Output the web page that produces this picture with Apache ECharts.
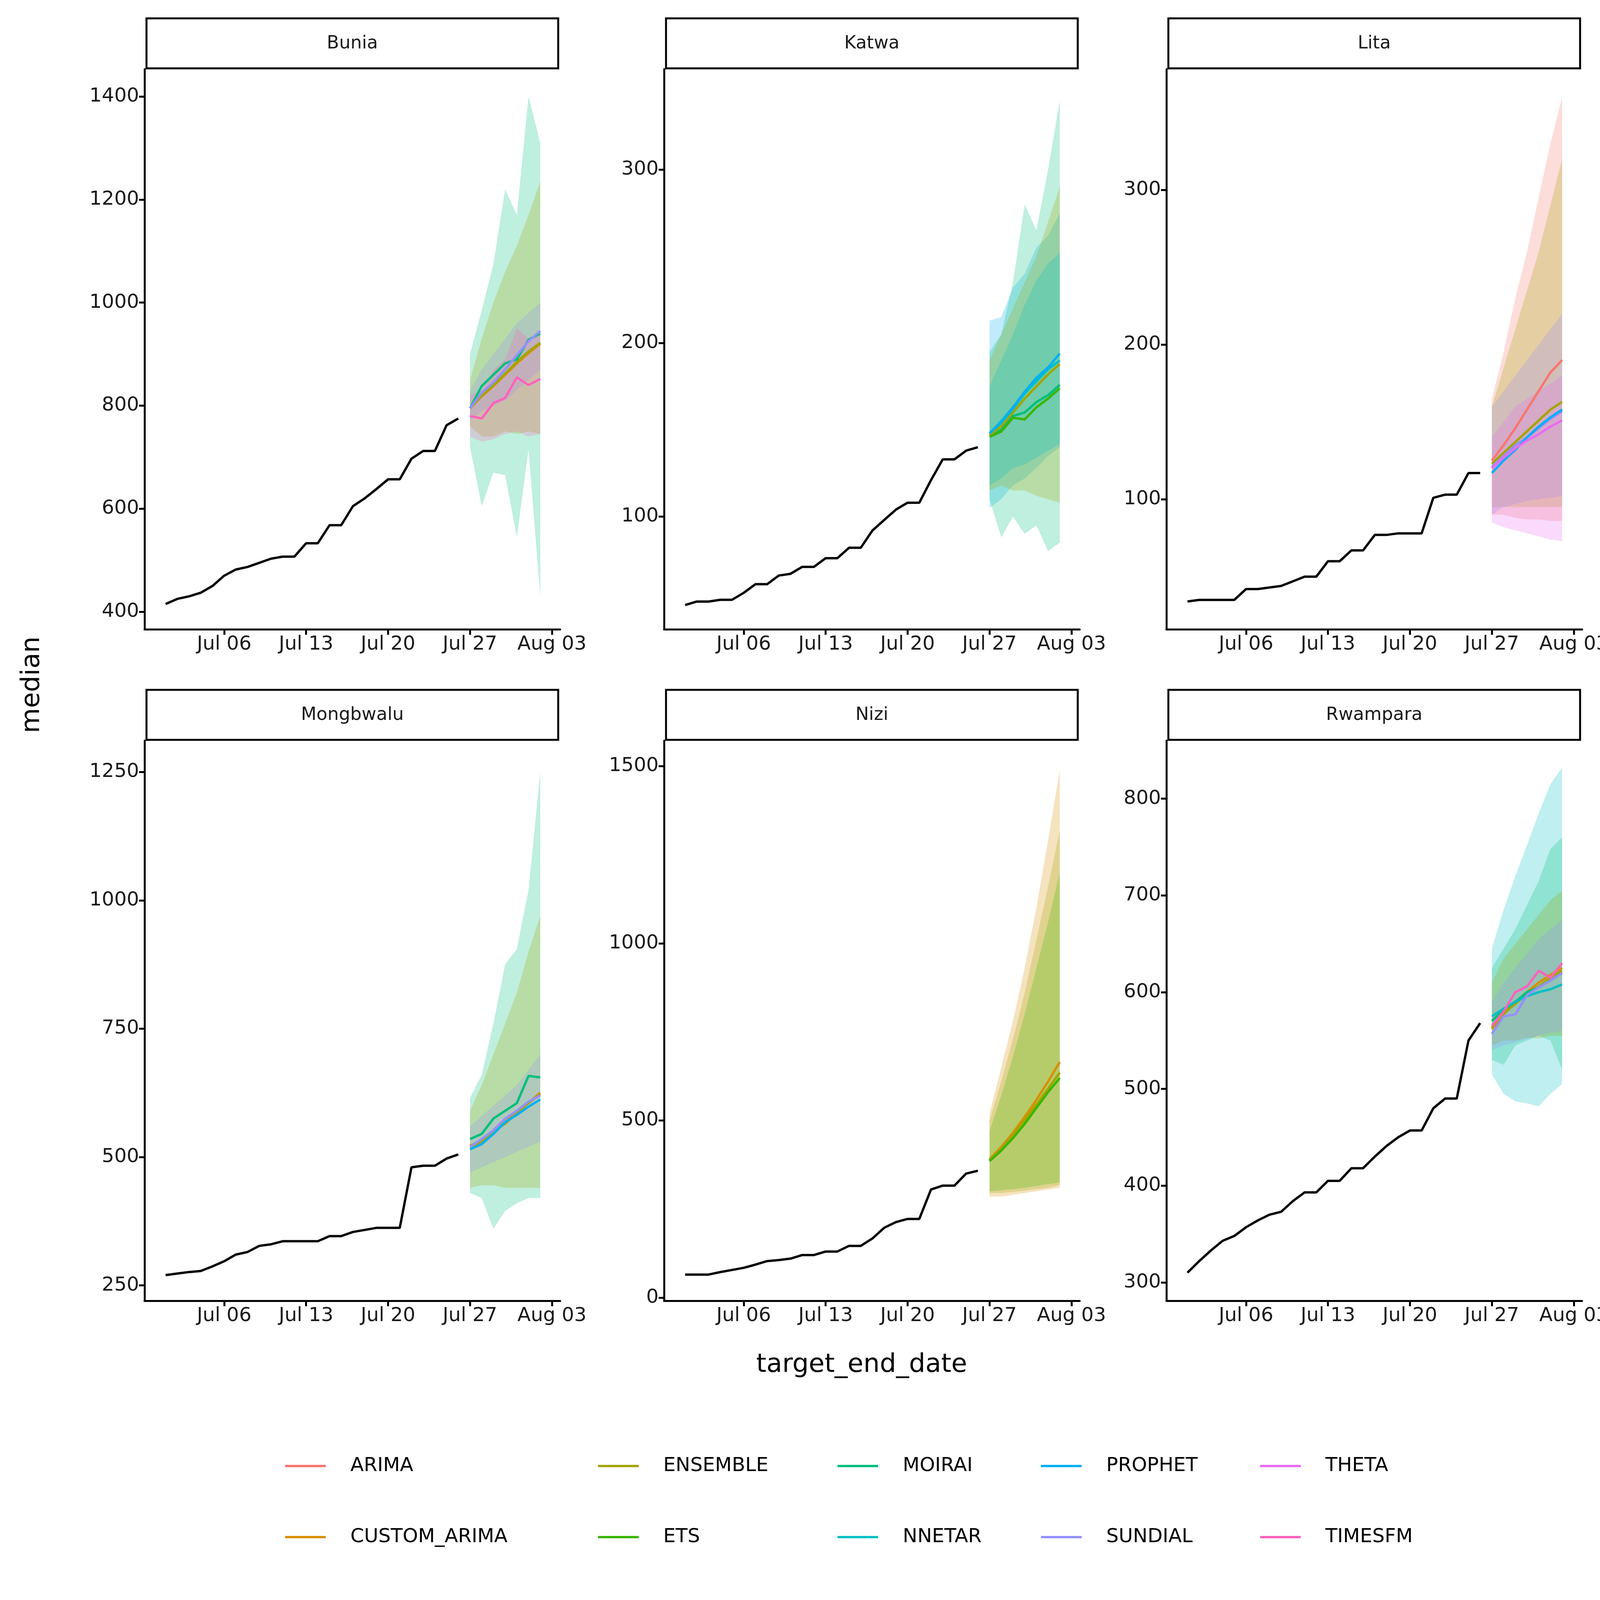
<!DOCTYPE html>
<html>
<head>
<meta charset="utf-8">
<script src="https://cdn.jsdelivr.net/npm/echarts@6/dist/echarts.min.js"></script>
<style>html,body{margin:0;background:#fff}#c{width:4200px;height:4200px}</style>
</head>
<body>
<div id="c"></div>
<script>
// day offsets relative to Jul 06
const obsDays = []
for (let d = -5; d <= 20; d++) obsDays.push(d)
const fcDays = [21, 22, 23, 24, 25, 26, 27]
const tickDays = [0, 7, 14, 21, 28]
const tickLabels = ['Jul 06', 'Jul 13', 'Jul 20', 'Jul 27', 'Aug 03']

const models = ['ARIMA', 'CUSTOM_ARIMA', 'ENSEMBLE', 'ETS', 'MOIRAI', 'NNETAR', 'PROPHET', 'SUNDIAL', 'THETA', 'TIMESFM']
const colors = {
  ARIMA: '#F8766D', CUSTOM_ARIMA: '#D89000', ENSEMBLE: '#A3A500', ETS: '#39B600', MOIRAI: '#00BF7D',
  NNETAR: '#00BFC4', PROPHET: '#00B0F6', SUNDIAL: '#9590FF', THETA: '#E76BF3', TIMESFM: '#FF62BC'
}

const buniaObs = [415, 425, 430, 437, 450, 470, 482, 487, 495, 503, 507, 507, 533, 533, 568, 568, 605, 620, 638, 657, 657, 697, 712, 712, 762, 775]
const buniaLines = {
  CUSTOM_ARIMA: [795, 818, 838, 860, 882, 902, 920],
  ENSEMBLE: [795, 820, 840, 862, 885, 905, 922],
  MOIRAI: [795, 838, 860, 882, 890, 928, 940],
  SUNDIAL: [795, 825, 845, 870, 898, 925, 945],
  TIMESFM: [780, 775, 805, 815, 855, 840, 852]
}
const buniaBands = {
  MOIRAI: [[720, 605, 670, 665, 545, 715, 430], [900, 985, 1075, 1220, 1170, 1400, 1310]],
  ENSEMBLE: [[760, 740, 740, 750, 745, 750, 745], [850, 930, 1000, 1060, 1110, 1170, 1235]],
  SUNDIAL: [[770, 790, 800, 810, 830, 850, 870], [830, 870, 900, 930, 960, 980, 1000]],
  TIMESFM: [[740, 730, 735, 745, 750, 740, 745], [820, 830, 870, 890, 950, 930, 945]]
}

const katwaObs = [49, 51, 51, 52, 52, 56, 61, 61, 66, 67, 71, 71, 76, 76, 82, 82, 92, 98, 104, 108, 108, 121, 133, 133, 138, 140]
const katwaLines = {
  MOIRAI: [147, 150, 158, 160, 166, 170, 176],
  ENSEMBLE: [147, 152, 160, 168, 175, 182, 188],
  NNETAR: [148, 154, 162, 171, 178, 185, 190],
  ETS: [146, 149, 157, 156, 163, 168, 174],
  PROPHET: [148, 155, 163, 172, 180, 186, 194]
}
const katwaBands = {
  PROPHET: [[105, 110, 118, 122, 128, 135, 140], [213, 215, 232, 240, 255, 262, 275]],
  MOIRAI: [[110, 88, 100, 90, 95, 80, 85], [195, 205, 235, 280, 265, 300, 340]],
  ENSEMBLE: [[115, 118, 115, 115, 112, 110, 108], [190, 205, 220, 235, 250, 270, 290]],
  NNETAR: [[118, 122, 128, 130, 134, 138, 142], [175, 190, 205, 222, 236, 246, 252]]
}

const litaObs = [34, 35, 35, 35, 35, 42, 42, 43, 44, 47, 50, 50, 60, 60, 67, 67, 77, 77, 78, 78, 78, 101, 103, 103, 117, 117]
const litaLines = {
  ARIMA: [125, 135, 146, 158, 170, 182, 190],
  ENSEMBLE: [123, 130, 137, 144, 151, 158, 163],
  SUNDIAL: [121, 128, 135, 140, 146, 152, 157],
  PROPHET: [117, 125, 132, 140, 147, 153, 158],
  THETA: [120, 127, 133, 138, 142, 147, 151]
}
const litaBands = {
  ARIMA: [[90, 90, 88, 87, 87, 86, 86], [165, 195, 230, 260, 295, 330, 360]],
  ENSEMBLE: [[95, 95, 95, 95, 95, 95, 95], [160, 185, 210, 235, 260, 290, 320]],
  SUNDIAL: [[90, 95, 97, 99, 100, 101, 102], [160, 170, 180, 190, 200, 210, 220]],
  THETA: [[85, 82, 80, 78, 76, 74, 73], [140, 150, 160, 165, 170, 175, 180]]
}

const mongObs = [270, 273, 276, 278, 287, 297, 310, 315, 327, 330, 336, 336, 336, 336, 346, 346, 354, 358, 362, 362, 362, 480, 483, 483, 497, 505]
const mongLines = {
  CUSTOM_ARIMA: [522, 532, 550, 568, 588, 606, 625],
  ENSEMBLE: [520, 530, 550, 565, 585, 605, 622],
  MOIRAI: [535, 545, 575, 590, 605, 658, 655],
  SUNDIAL: [520, 535, 552, 575, 590, 608, 620],
  PROPHET: [515, 525, 545, 568, 582, 598, 612]
}
const mongBands = {
  MOIRAI: [[430, 420, 360, 395, 410, 420, 420], [615, 660, 760, 875, 905, 1020, 1250]],
  ENSEMBLE: [[440, 445, 445, 440, 440, 440, 440], [590, 640, 700, 760, 820, 900, 970]],
  SUNDIAL: [[470, 480, 490, 500, 510, 520, 530], [560, 580, 600, 620, 640, 670, 700]]
}

const niziObs = [65, 65, 65, 72, 78, 84, 93, 103, 106, 110, 120, 120, 130, 130, 146, 146, 167, 197, 213, 222, 222, 305, 316, 316, 350, 358]
const niziLines = {
  CUSTOM_ARIMA: [390, 425, 465, 510, 558, 610, 665],
  ENSEMBLE: [388, 420, 458, 500, 545, 590, 635],
  ETS: [385, 415, 450, 490, 535, 580, 620]
}
const niziBands = {
  CUSTOM_ARIMA: [[285, 285, 290, 295, 300, 305, 310], [520, 650, 780, 930, 1100, 1290, 1490]],
  ENSEMBLE: [[295, 295, 298, 302, 306, 310, 318], [500, 610, 730, 860, 1010, 1160, 1320]],
  ETS: [[300, 303, 306, 310, 315, 320, 325], [470, 570, 680, 800, 930, 1060, 1200]]
}

const rwamObs = [310, 322, 333, 343, 348, 357, 364, 370, 373, 384, 393, 393, 405, 405, 418, 418, 430, 441, 450, 457, 457, 480, 490, 490, 550, 568]
const rwamLines = {
  CUSTOM_ARIMA: [562, 577, 590, 600, 610, 618, 625],
  ENSEMBLE: [563, 578, 588, 598, 606, 615, 622],
  MOIRAI: [570, 582, 590, 600, 605, 612, 620],
  NNETAR: [575, 583, 590, 596, 600, 603, 608],
  SUNDIAL: [557, 575, 577, 597, 605, 612, 620],
  TIMESFM: [565, 580, 600, 606, 622, 615, 630]
}
const rwamBands = {
  NNETAR: [[515, 495, 487, 485, 482, 495, 505], [645, 685, 720, 752, 785, 815, 832]],
  MOIRAI: [[530, 525, 545, 550, 555, 550, 520], [625, 645, 665, 690, 715, 748, 760]],
  ENSEMBLE: [[545, 550, 550, 553, 552, 555, 555], [610, 635, 650, 665, 680, 695, 705]],
  SUNDIAL: [[540, 545, 548, 552, 555, 558, 560], [590, 610, 625, 640, 655, 665, 675]]
}

const panels = [
  { name: 'Bunia', obs: buniaObs, lines: buniaLines, bands: buniaBands, min: 366, max: 1453, ticks: [400, 600, 800, 1000, 1200, 1400] },
  { name: 'Katwa', obs: katwaObs, lines: katwaLines, bands: katwaBands, min: 35, max: 358, ticks: [100, 200, 300] },
  { name: 'Lita', obs: litaObs, lines: litaLines, bands: litaBands, min: 16, max: 378, ticks: [100, 200, 300] },
  { name: 'Mongbwalu', obs: mongObs, lines: mongLines, bands: mongBands, min: 220, max: 1311, ticks: [250, 500, 750, 1000, 1250] },
  { name: 'Nizi', obs: niziObs, lines: niziLines, bands: niziBands, min: -9, max: 1572, ticks: [0, 500, 1000, 1500] },
  { name: 'Rwampara', obs: rwamObs, lines: rwamLines, bands: rwamBands, min: 281, max: 860, ticks: [300, 400, 500, 600, 700, 800] }
]

const colLeft = [370, 1700, 2986]
const rowTop = [177, 1896]
const W = 1064
const H = 1434
const STRIP = 130

const grids = []
const xAxes = []
const yAxes = []
const series = []
const graphics = []
const axisText = { color: '#1a1a1a', fontSize: 50, fontFamily: 'DejaVu Sans' }

panels.forEach((p, i) => {
  const left = colLeft[i % 3]
  const top = rowTop[Math.floor(i / 3)]
  grids.push({ left, top, width: W, height: H })
  xAxes.push({
    type: 'value', gridIndex: i, min: -6.8, max: 28.7,
    axisLine: { onZero: false, lineStyle: { color: '#000', width: 5 } },
    axisTick: { customValues: tickDays, length: 14, lineStyle: { color: '#000', width: 5 } },
    axisLabel: {
      customValues: tickDays, ...axisText, margin: 14,
      formatter: v => tickLabels[tickDays.indexOf(v)]
    },
    splitLine: { show: false }
  })
  yAxes.push({
    type: 'value', gridIndex: i, min: p.min, max: p.max,
    axisLine: { show: true, onZero: false, lineStyle: { color: '#000', width: 5 } },
    axisTick: { show: true, customValues: p.ticks, length: 14, lineStyle: { color: '#000', width: 5 } },
    axisLabel: { customValues: p.ticks, ...axisText, margin: 14, formatter: v => String(v) },
    splitLine: { show: false }
  })
  graphics.push({
    type: 'rect', shape: { x: left + 5, y: top - STRIP, width: W - 10, height: STRIP - 2 },
    style: { fill: '#fff', stroke: '#000', lineWidth: 5 }
  })
  graphics.push({
    type: 'text', x: left + W / 2, y: top - STRIP / 2,
    style: { text: p.name, fill: '#1a1a1a', fontSize: 46, fontFamily: 'DejaVu Sans', align: 'center', verticalAlign: 'middle' }
  })

  Object.keys(p.bands).forEach(m => {
    const [lo, hi] = p.bands[m]
    const data = fcDays.map((d, k) => [d, lo[k], hi[k]])
    series.push({
      type: 'custom', name: m + ' band', xAxisIndex: i, yAxisIndex: i, data, silent: true, z: 1,
      renderItem: (params, api) => {
        if (params.dataIndex !== 0) return null
        const upper = data.map(r => api.coord([r[0], r[2]]))
        const lower = data.map(r => api.coord([r[0], r[1]])).reverse()
        return {
          type: 'polygon', shape: { points: upper.concat(lower) },
          style: { fill: colors[m], opacity: 0.25 }
        }
      }
    })
  })
  Object.keys(p.lines).forEach(m => {
    series.push({
      type: 'line', name: m, xAxisIndex: i, yAxisIndex: i, symbol: 'none', z: 3,
      lineStyle: { color: colors[m], width: 6 }, itemStyle: { color: colors[m] },
      data: fcDays.map((d, k) => [d, p.lines[m][k]])
    })
  })
  series.push({
    type: 'line', name: 'observed', xAxisIndex: i, yAxisIndex: i, symbol: 'none', z: 4,
    lineStyle: { color: '#000', width: 6 },
    data: obsDays.map((d, k) => [d, p.obs[k]])
  })
})

// legend: two rows, five columns
const legendX = [725, 1526, 2139, 2660, 3221]
const legends = legendX.map((x, c) => ({
  orient: 'vertical', left: x, top: 3723, itemGap: 132, itemWidth: 104, itemHeight: 50,
  selectedMode: false,
  icon: 'path://M0,0H100V6H0Z',
  data: [models[c * 2], models[c * 2 + 1]].map(n => ({ name: n, itemStyle: { color: colors[n] } })),
  textStyle: { color: '#000', fontSize: 50, fontFamily: 'DejaVu Sans', padding: [0, 0, 0, 58] }
}))

graphics.push({
  type: 'text', x: 83, y: 1753, rotation: Math.PI / 2,
  style: { text: 'median', fill: '#000', fontSize: 66, fontFamily: 'DejaVu Sans', align: 'center', verticalAlign: 'middle' }
})
graphics.push({
  type: 'text', x: 2206, y: 3495,
  style: { text: 'target_end_date', fill: '#000', fontSize: 66, fontFamily: 'DejaVu Sans', align: 'center', verticalAlign: 'middle' }
})

const chart = echarts.init(document.getElementById('c'), null, { renderer: 'canvas' })
chart.setOption({
  backgroundColor: '#fff',
  animation: false,
  grid: grids,
  xAxis: xAxes,
  yAxis: yAxes,
  legend: legends,
  graphic: graphics,
  series
})
</script>
</body>
</html>
